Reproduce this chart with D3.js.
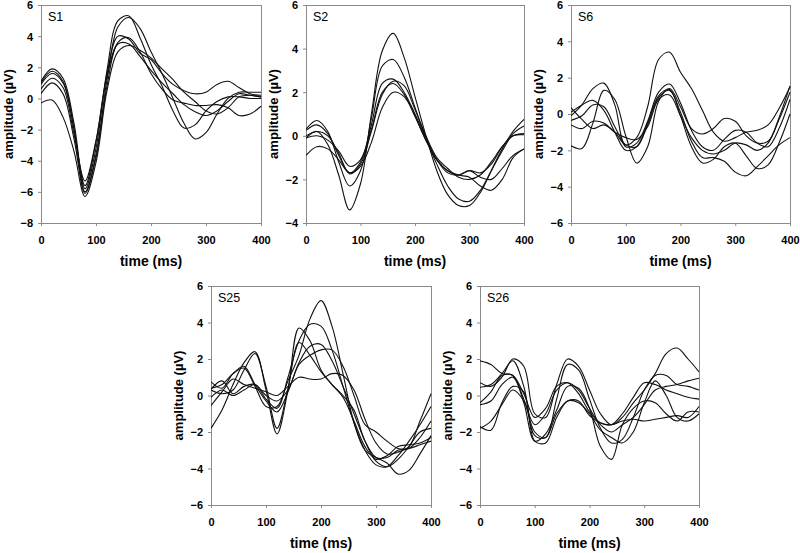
<!DOCTYPE html>
<html>
<head>
<meta charset="utf-8">
<script src="https://cdn.jsdelivr.net/npm/d3@7"></script>
<style>
  html, body { margin: 0; padding: 0; background: #fff; }
  svg { display: block; }
  .tick text { font-family: "Liberation Sans", Arial, sans-serif; font-weight: bold; font-size: 11px; fill: #000; }
</style>
</head>
<body>
<script>
// ---- data (amplitude in µV, sampled every 20 ms) ----
const times = [0, 20, 40, 60, 80, 100, 120, 140, 160, 180, 200, 220, 240, 260, 280, 300, 320, 340, 360, 380, 400];
const xTicks = [0, 100, 200, 300, 400];

const panelNames = ["S1", "S2", "S6", "S25", "S26"];
const yDomains = [[-8, 6], [-4, 6], [-6, 6], [-6, 6], [-6, 6]];
const yTickValues = [
  [-8, -6, -4, -2, 0, 2, 4, 6],
  [-4, -2, 0, 2, 4, 6],
  [-6, -4, -2, 0, 2, 4, 6],
  [-6, -4, -2, 0, 2, 4, 6],
  [-6, -4, -2, 0, 2, 4, 6]
];

const seriesS1 = [
  [1.1, 1.9, 1.3, -1.6, -5.8, -3.2, 1.8, 5.0, 5.3, 3.9, 2.2, 0.8, -0.8, -1.9, -1.7, -0.8, -0.2, 0.1, 0.1, 0.0, 0.0],
  [1.0, 1.75, 1.1, -1.9, -6.1, -3.6, 1.2, 4.6, 5.2, 4.5, 3.0, 1.6, 0.0, -1.6, -2.6, -2.2, -1.0, 0.0, 0.4, 0.4, 0.4],
  [0.9, 1.6, 1.0, -2.0, -5.6, -2.8, 1.6, 4.0, 3.8, 2.9, 2.5, 1.6, 0.9, 0.5, 0.3, 0.4, 0.9, 1.1, 0.7, 0.3, 0.2],
  [0.6, 1.3, 0.7, -2.3, -5.3, -2.7, 1.4, 3.5, 3.5, 2.7, 1.8, 1.0, 0.3, -0.4, -0.85, -1.1, -0.8, -0.2, 0.3, 0.2, 0.1],
  [0.3, 1.0, 0.3, -2.6, -6.0, -3.8, 0.8, 3.6, 3.9, 3.0, 1.6, 0.6, -0.1, -0.3, -0.45, -0.45, -0.4, -0.6, -1.1, -1.0, -0.5],
  [-0.3, -0.1, -1.2, -3.4, -6.3, -4.1, 0.5, 3.0, 3.4, 3.1, 2.6, 1.9, 1.2, 0.4, -0.2, -0.8, -1.0, -0.6, 0.1, 0.2, 0.1]
];

const seriesS2 = [
  [-0.1, 0.2, -0.4, -1.8, -3.4, -2.2, 1.0, 3.9, 4.7, 3.6, 1.8, 0.0, -1.6, -2.7, -3.2, -3.2, -2.6, -1.6, -0.6, 0.2, 0.75],
  [0.3, 0.7, 0.2, -1.2, -2.3, -1.6, 0.8, 3.2, 3.5, 2.7, 1.3, -0.1, -1.3, -2.3, -2.9, -3.0, -2.5, -1.6, -0.7, 0.1, 0.45],
  [0.25, 0.5, 0.1, -0.9, -1.7, -1.2, 0.5, 2.4, 2.6, 2.0, 1.0, -0.1, -1.1, -1.6, -1.8, -1.6, -1.7, -1.3, -0.5, 0.0, 0.1],
  [0.0, 0.2, 0.0, -0.8, -1.75, -1.3, 0.2, 1.9, 2.5, 2.3, 1.2, 0.0, -1.0, -1.5, -1.9, -2.0, -1.8, -1.2, -0.5, 0.0, 0.05],
  [-0.1, 0.0, -0.2, -0.7, -1.4, -1.1, 0.3, 2.0, 2.4, 1.9, 0.9, -0.2, -1.1, -1.6, -1.8, -1.9, -2.3, -2.5, -2.0, -1.0, -0.6],
  [-0.9, -0.5, -0.6, -1.1, -1.7, -1.4, -0.3, 1.3, 2.0, 1.8, 0.9, -0.2, -1.1, -1.7, -1.8, -1.6, -1.9, -2.0, -1.5, -0.9, -0.6]
];

const seriesS6 = [
  [0.35, -0.3, -0.8, -0.6, -1.0, -1.7, -1.3, 0.4, 3.0, 3.4, 2.3, 1.4, 0.2, -1.0, -1.5, -1.3, -1.0, -0.9, -0.6, 0.3, 1.5],
  [-0.1, 0.5, 1.4, 1.7, 0.5, -1.8, -1.6, -0.4, 1.2, 1.65, 0.6, -0.9, -1.8, -2.0, -1.4, -0.9, -1.0, -1.6, -1.8, -0.8, 0.8],
  [-1.75, -1.9, -0.5, 1.3, 0.8, -1.2, -2.7, -1.8, 0.7, 1.4, 0.4, -0.8, -1.1, -0.8, -0.25, -0.4, -1.2, -1.6, -1.5, -0.3, 1.2],
  [0.1, 0.5, 0.75, 0.2, -1.0, -2.0, -1.8, -0.5, 1.0, 1.35, -0.1, -1.8, -2.7, -2.5, -1.8, -1.6, -2.3, -3.0, -2.8, -1.6, 0.0],
  [-0.35, -0.1, 0.5, 0.4, -0.7, -1.7, -1.8, -0.6, 0.9, 1.3, 0.1, -1.5, -2.4, -2.4, -2.6, -3.2, -3.4, -2.9, -2.3, -1.7, -1.3],
  [-0.6, -0.8, -0.4, -0.5, -1.0, -1.3, -1.4, -0.7, 0.8, 1.05, -0.1, -1.3, -2.0, -2.2, -2.0, -1.6, -1.7, -2.0, -1.6, -0.2, 1.55]
];

const seriesS25 = [
  [0.4, 0.6, 1.2, 1.5, 0.5, -0.6, -0.6, 0.8, 2.2, 4.2, 5.2, 3.8, 1.2, -1.5, -3.0, -3.4, -3.7, -4.3, -4.1, -3.2, -2.2],
  [0.35, 0.8, 0.1, 0.5, 0.6, -0.2, -0.7, 1.0, 3.0, 3.9, 3.8, 2.5, 0.5, -1.5, -3.0, -3.8, -3.9, -3.3, -2.5, -1.6, -0.6],
  [-1.8, -0.8, 0.6, 1.8, 2.4, 0.3, -2.1, 0.3, 3.7, 3.0, 1.4, 0.6, -0.1, -1.4, -2.8, -3.5, -3.3, -2.8, -2.7, -2.6, -2.3],
  [0.3, 0.1, 0.3, 1.4, 2.3, 0.5, -1.8, 0.4, 2.9, 2.2, 1.3, 0.6, 0.0, -0.8, -2.5, -3.4, -3.4, -3.0, -2.9, -2.3, -1.4],
  [0.75, 0.4, 1.2, 1.6, 0.6, -0.3, -0.9, 0.2, 1.8, 2.7, 2.8, 1.9, 0.5, -1.0, -2.5, -3.6, -3.9, -3.5, -2.8, -2.0, -1.8],
  [-0.1, 0.3, 0.0, 0.3, 0.6, 0.0, -0.3, 0.3, 1.7, 2.2, 2.5, 2.5, 1.6, 0.0, -1.6, -2.0, -2.5, -2.9, -2.9, -2.7, -2.5],
  [-0.55, 0.2, 0.9, 0.6, 0.4, 0.2, 0.0, 0.5, 1.0, 0.9, 0.9, 1.2, 1.1, 0.3, -1.3, -2.6, -3.2, -3.1, -2.8, -1.4, 0.1]
];

const seriesS26 = [
  [1.9, 1.7, 1.2, 1.1, 0.1, -1.2, -0.7, 0.5, 0.7, 0.1, -0.9, -1.5, -1.6, -1.0, -0.1, 0.7, 0.6, 0.3, 0.1, -0.1, -0.2],
  [0.7, 0.5, 1.0, 2.0, 1.6, -1.0, -1.2, 0.6, 2.0, 1.6, 0.3, -1.0, -1.6, -1.2, -0.4, 0.3, 1.2, 2.3, 2.6, 2.0, 1.3],
  [0.45, 0.6, 1.2, 1.9, 0.5, -2.2, -2.3, -0.2, 1.7, 1.4, -0.2, -1.8, -2.6, -2.4, -1.2, 0.3, 1.1, 1.1, 0.6, 0.5, 0.3],
  [-0.4, 0.2, 1.1, 1.1, -0.2, -1.6, -1.0, 0.3, 0.7, 0.3, -0.7, -1.6, -2.0, -1.6, -1.2, -0.5, 0.3, 0.5, 0.6, 0.8, 0.95],
  [-0.5, -0.3, 0.6, 1.0, -0.4, -2.5, -2.1, -0.8, 0.5, 0.4, -0.7, -2.8, -3.5, -1.6, -0.7, -0.3, -0.4, -1.0, -1.4, -0.9, -0.9],
  [-1.7, -1.9, -0.4, 0.5, 0.2, -2.5, -2.6, -1.2, -0.3, -0.4, -1.0, -1.9, -2.3, -2.6, -2.0, -0.4, 0.8, 0.0, -1.2, -1.4, -1.0],
  [-1.8, -1.4, -0.5, 0.3, -0.3, -2.0, -2.3, -1.0, -0.3, -0.3, -1.1, -1.5, -1.6, -1.4, -1.3, -1.4, -1.3, -1.2, -1.1, -1.2, -0.6]
];

const allSeries = [seriesS1, seriesS2, seriesS6, seriesS25, seriesS26];

// ---- layout (frames in page pixels) ----
const frames = [
  { left: 41,  right: 261, top: 5,   bottom: 223 },
  { left: 306, right: 524, top: 5,   bottom: 223 },
  { left: 571, right: 790, top: 5,   bottom: 223 },
  { left: 211, right: 431, top: 286, bottom: 505 },
  { left: 480, right: 699, top: 286, bottom: 505 }
];

const W = 800, H = 553;
const svg = d3.select("body").append("svg").attr("width", W).attr("height", H);
const font = "'Liberation Sans', Arial, sans-serif";
const frameColor = "#8a8a8a";

panelNames.forEach((name, i) => {
  const f = frames[i];
  const x = d3.scaleLinear().domain([0, 400]).range([f.left, f.right]);
  const y = d3.scaleLinear().domain(yDomains[i]).range([f.bottom, f.top]);
  const g = svg.append("g");

  // x axis
  const xa = g.append("g").attr("transform", `translate(0,${f.bottom})`)
    .call(d3.axisBottom(x).tickValues(xTicks).tickSize(3).tickPadding(10).tickFormat(d3.format("d")));
  xa.select(".domain").remove();
  xa.selectAll(".tick line").attr("stroke", frameColor);

  // y axis
  const ya = g.append("g").attr("transform", `translate(${f.left},0)`)
    .call(d3.axisLeft(y).tickValues(yTickValues[i]).tickSize(3).tickPadding(5).tickFormat(d3.format("d")));
  ya.select(".domain").remove();
  ya.selectAll(".tick line").attr("stroke", frameColor);
  ya.selectAll(".tick text").attr("dy", "0.36em");

  // frame
  g.append("rect")
    .attr("x", f.left + 0.5).attr("y", f.top + 0.5)
    .attr("width", f.right - f.left).attr("height", f.bottom - f.top)
    .attr("fill", "none").attr("stroke", frameColor).attr("stroke-width", 1);

  // curves
  const line = d3.line()
    .x((d, k) => x(times[k]))
    .y(d => y(d))
    .curve(d3.curveCatmullRom.alpha(0.5));
  const clipId = "clip" + i;
  svg.append("clipPath").attr("id", clipId).append("rect")
    .attr("x", f.left).attr("y", f.top).attr("width", f.right - f.left + 1).attr("height", f.bottom - f.top + 1);
  g.append("g").attr("clip-path", `url(#${clipId})`)
    .selectAll("path").data(allSeries[i]).join("path")
    .attr("d", line)
    .attr("fill", "none").attr("stroke", "#111").attr("stroke-width", 1.1);

  // panel label
  g.append("text").attr("x", f.left + 7).attr("y", f.top + 16)
    .attr("font-family", font).attr("font-size", 12.5).attr("fill", "#000").text(name);

  // axis titles
  g.append("text").attr("x", (f.left + f.right) / 2).attr("y", f.bottom + 43)
    .attr("text-anchor", "middle").attr("font-family", font).attr("font-weight", "bold")
    .attr("font-size", 14).attr("fill", "#000").text("time (ms)");
  g.append("text")
    .attr("transform", `translate(${f.left - 28},${(f.top + f.bottom) / 2}) rotate(-90)`)
    .attr("text-anchor", "middle").attr("font-family", font).attr("font-weight", "bold")
    .attr("font-size", 13).attr("fill", "#000").text("amplitude (µV)");
});
</script>
</body>
</html>
